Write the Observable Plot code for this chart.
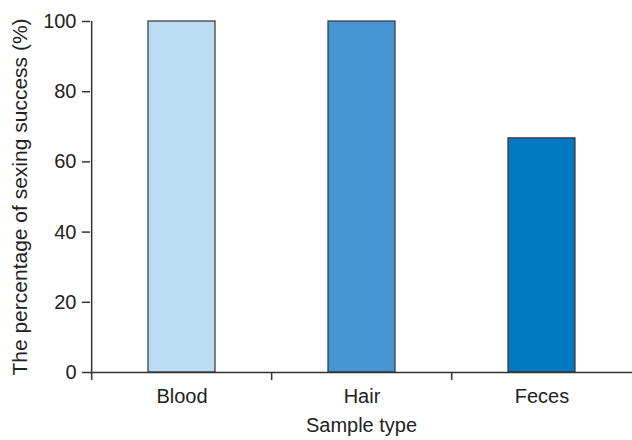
<!DOCTYPE html>
<html><head><meta charset="utf-8">
<script src="https://cdn.jsdelivr.net/npm/d3@7"></script>
<script src="https://cdn.jsdelivr.net/npm/@observablehq/plot@0.6"></script>
<style>body{margin:0;background:#fff}</style>
</head><body><div id="chart"></div>
<script>
const categories = ["Blood", "Hair", "Feces"];
const values = [100, 100, 66.7];
const colors = ["#bcdcf4", "#4596d2", "#0079c1"];
const yTicks = [0, 20, 40, 60, 80, 100];

const data = categories.map((c, i) => ({cat: c, value: values[i], color: colors[i]}));
const W = 632, H = 440, mL = 90, mR = 0, mT = 21, mB = 68;
const step = (W - mL - mR) / categories.length;
const font = "Liberation Sans, Arial, sans-serif";

const chart = Plot.plot({
  width: W, height: H,
  marginLeft: mL, marginRight: mR, marginTop: mT, marginBottom: mB,
  style: {fontFamily: font, fontSize: "20px", color: "#222", background: "#fff", overflow: "visible"},
  x: {domain: categories, paddingInner: 0.63, paddingOuter: 0.315, align: 0.5, label: null},
  y: {domain: [0, 100], label: null},
  marks: [
    Plot.barY(data, {x: "cat", y: "value", fill: "color", stroke: "#333", strokeWidth: 1.2}),
    Plot.ruleY([0], {stroke: "#333", strokeWidth: 1.5}),
    Plot.ruleX([categories[0]], {x: d => d, dx: -step / 2, y1: 0, y2: 100, stroke: "#333", strokeWidth: 1.5}),
    Plot.ruleX(categories, {x: d => d, y1: 0, y2: -2.3, dx: -step / 2, stroke: "#333", strokeWidth: 1.5}),
    Plot.axisY({ticks: yTicks, tickSize: 8, tickPadding: 6, stroke: "#333", strokeWidth: 1.5, fontSize: 20, fill: "#222", label: null}),
    Plot.axisX({tickSize: 0, tickPadding: 16, fontSize: 20, fill: "#222", label: null}),
    Plot.text(["Sample type"], {frameAnchor: "bottom", dy: 59, fontSize: 20, fill: "#222"}),
    Plot.text(["The percentage of sexing success (%)"], {frameAnchor: "left", textAnchor: "middle", dx: -70, rotate: -90, fontSize: 21, fill: "#222"})
  ]
});
document.getElementById("chart").appendChild(chart);
</script>
</body></html>
